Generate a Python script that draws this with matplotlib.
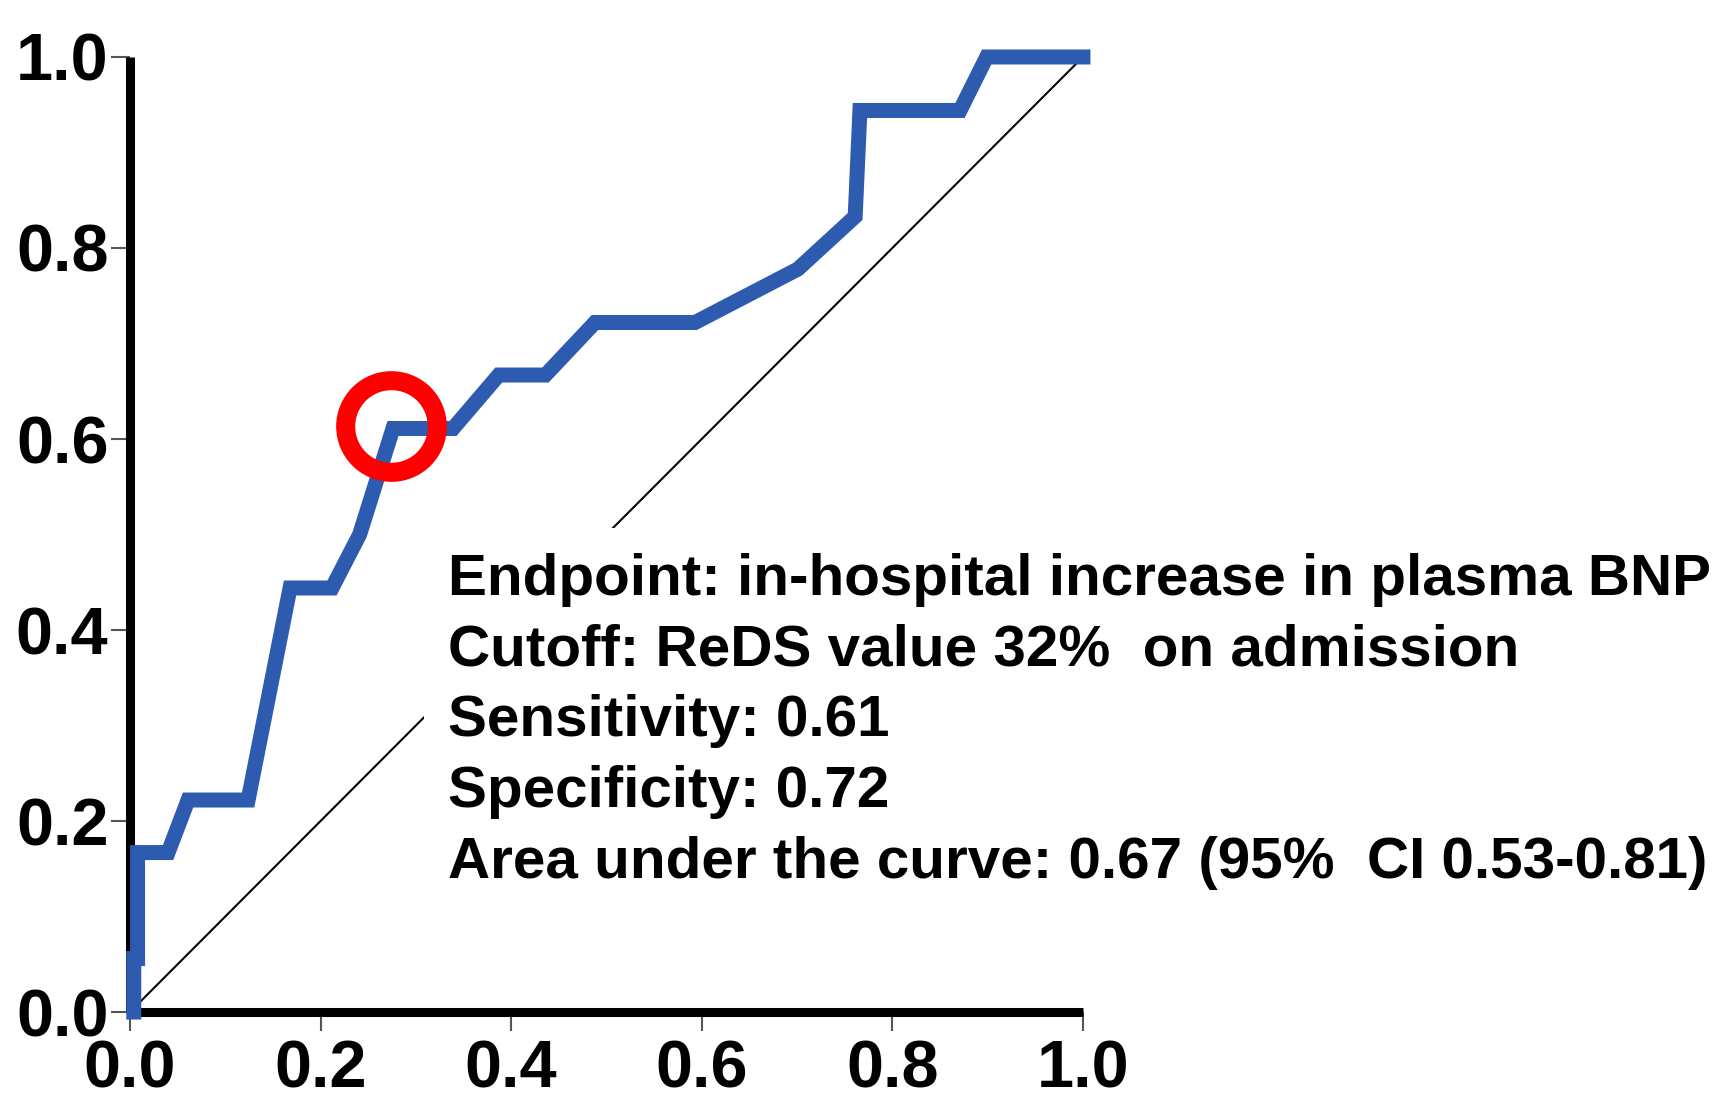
import matplotlib
matplotlib.use("Agg")
import matplotlib.pyplot as plt

plt.rcParams['font.family'] = ['Liberation Sans', 'DejaVu Sans']

# ---------- data --------------------------------------------------------------
fpr = [0.004, 0.004, 0.008, 0.008, 0.040, 0.061, 0.124, 0.168, 0.212, 0.241,
       0.276, 0.339, 0.387, 0.436, 0.488, 0.593, 0.701, 0.761, 0.766, 0.871,
       0.899, 1.0]
tpr = [0.0, 0.056, 0.056, 0.167, 0.167, 0.222, 0.222, 0.444, 0.444, 0.500,
       0.611, 0.611, 0.667, 0.667, 0.722, 0.722, 0.778, 0.833, 0.944, 0.944,
       1.0, 1.0]

cutoff_fpr = 0.274
cutoff_tpr = 0.614

ticks = [0.0, 0.2, 0.4, 0.6, 0.8, 1.0]
tick_labels = ["0.0", "0.2", "0.4", "0.6", "0.8", "1.0"]

info_lines = [
    "Endpoint: in-hospital increase in plasma BNP",
    "Cutoff: ReDS value 32%  on admission",
    "Sensitivity: 0.61",
    "Specificity: 0.72",
    "Area under the curve: 0.67 (95%  CI 0.53-0.81)",
]

# ---------- figure -------------------------------------------------------------
fig = plt.figure(figsize=(17.28, 11.13), dpi=100)
ax = fig.add_axes([0.0752, 0.0907, 0.5515, 0.8581])

# chance line
ax.plot([0, 1], [0, 1], color="black", lw=1.5, zorder=1)

# ROC curve
ax.plot(fpr, tpr, color="#2d5bb0", lw=10.8, solid_joinstyle="miter",
        solid_capstyle="projecting", clip_on=False, zorder=4)

# chosen cutoff
ax.plot([cutoff_fpr], [cutoff_tpr], marker="o", ms=66, mfc="none",
        mec="#ff0000", mew=13.7, clip_on=False, zorder=5)

ax.text(0.334, 0.481, "\n".join(info_lines), ha="left", va="top",
        fontsize=42, fontweight="bold", linespacing=1.40,
        bbox=dict(facecolor="white", edgecolor="none", pad=17.6), zorder=3)

ax.set_xlim(0, 1)
ax.set_ylim(0, 1)
ax.set_xticks(ticks)
ax.set_xticklabels(tick_labels)
ax.set_yticks(ticks)
ax.set_yticklabels(tick_labels)

for side in ["top", "right"]:
    ax.spines[side].set_visible(False)
for side in ["left", "bottom"]:
    ax.spines[side].set_linewidth(6.5)
    ax.spines[side].set_capstyle("butt")

ax.tick_params(axis="both", direction="out", length=13.5, width=1.5,
               color="#555555", labelsize=48)
ax.tick_params(axis="x", pad=6)
ax.tick_params(axis="y", pad=2)
for lab in ax.get_xticklabels() + ax.get_yticklabels():
    lab.set_fontweight("bold")

fig.savefig("out.png", dpi=100)
